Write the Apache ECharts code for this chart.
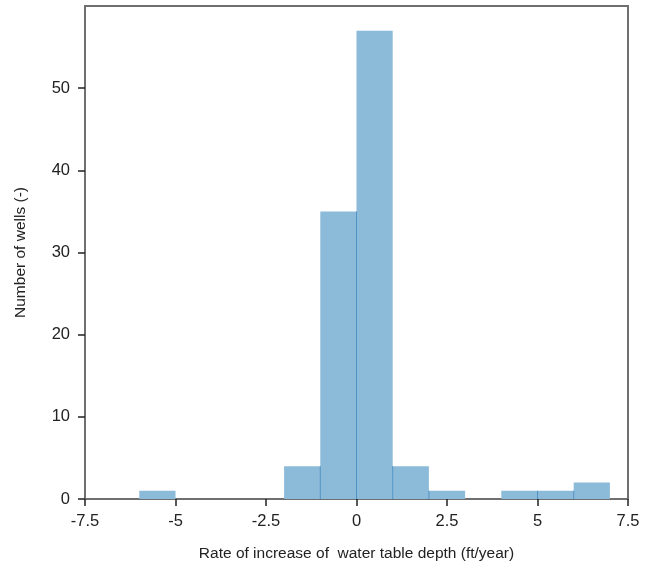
<!DOCTYPE html>
<html>
<head>
<meta charset="utf-8">
<script src="https://cdn.jsdelivr.net/npm/echarts@6/dist/echarts.min.js"></script>
<style>
  html, body { margin: 0; padding: 0; background: #fff; }
  #main { width: 648px; height: 567px; }
</style>
</head>
<body>
<div id="main"></div>
<script>
// histogram bins (left edge, width 1) and counts
var binStart = [-6, -5, -4, -3, -2, -1, 0, 1, 2, 3, 4, 5, 6];
var counts = [1, 0, 0, 0, 4, 35, 57, 4, 1, 0, 1, 1, 2];
var binWidth = 1;
var yTicks = [0, 10, 20, 30, 40, 50];

var fontName = "'Liberation Sans', Arial, sans-serif";
var frameColor = '#6f6f6f';

var data = [];
for (var i = 0; i < binStart.length; i++) {
    data.push([binStart[i], counts[i], i > 0 ? counts[i - 1] : 0]);
}

var chart = echarts.init(document.getElementById('main'));

var option = {
    backgroundColor: '#fff',
    animation: false,
    grid: {
        left: 85,
        right: 20,
        top: 6,
        bottom: 68,
        show: true,
        borderColor: frameColor,
        borderWidth: 2
    },
    xAxis: {
        type: 'value',
        min: -7.5,
        max: 7.5,
        interval: 2.5,
        name: 'Rate of increase of  water table depth (ft/year)',
        nameLocation: 'middle',
        nameGap: 47,
        nameTextStyle: { fontFamily: fontName, fontSize: 15.5, color: '#222' },
        axisLine: { onZero: false, lineStyle: { color: frameColor, width: 2 } },
        axisTick: { inside: false, length: 7, lineStyle: { color: '#222', width: 1.5 } },
        axisLabel: { fontFamily: fontName, fontSize: 16.5, color: '#222', margin: 14 },
        splitLine: { show: false }
    },
    yAxis: {
        type: 'value',
        min: 0,
        max: 60,
        interval: 10,
        name: 'Number of wells (-)',
        nameLocation: 'middle',
        nameGap: 56,
        nameTextStyle: { fontFamily: fontName, fontSize: 15.5, color: '#222' },
        axisLine: { show: true, onZero: false, lineStyle: { color: frameColor, width: 2 } },
        axisTick: { show: true, length: 7, customValues: yTicks, lineStyle: { color: '#222', width: 1.5 } },
        axisLabel: { fontFamily: fontName, fontSize: 16.5, color: '#222', margin: 15, customValues: yTicks },
        splitLine: { show: false }
    },
    series: [{
        type: 'custom',
        data: data,
        renderItem: function (params, api) {
            var x0 = api.value(0);
            var h = api.value(1);
            var prev = api.value(2);
            if (h <= 0) return;
            var p0 = api.coord([x0, h]);
            var p1 = api.coord([x0 + binWidth, 0]);
            var children = [{
                type: 'rect',
                shape: { x: p0[0], y: p0[1], width: p1[0] - p0[0], height: p1[1] - p0[1] },
                style: { fill: '#8cbad9' }
            }];
            if (prev > 0) {
                var top = api.coord([x0, Math.min(prev, h)]);
                children.push({
                    type: 'line',
                    shape: { x1: p0[0], y1: top[1], x2: p0[0], y2: p1[1] },
                    style: { stroke: '#4f93c4', lineWidth: 1 }
                });
            }
            return { type: 'group', children: children };
        }
    }]
};

chart.setOption(option);
</script>
</body>
</html>
